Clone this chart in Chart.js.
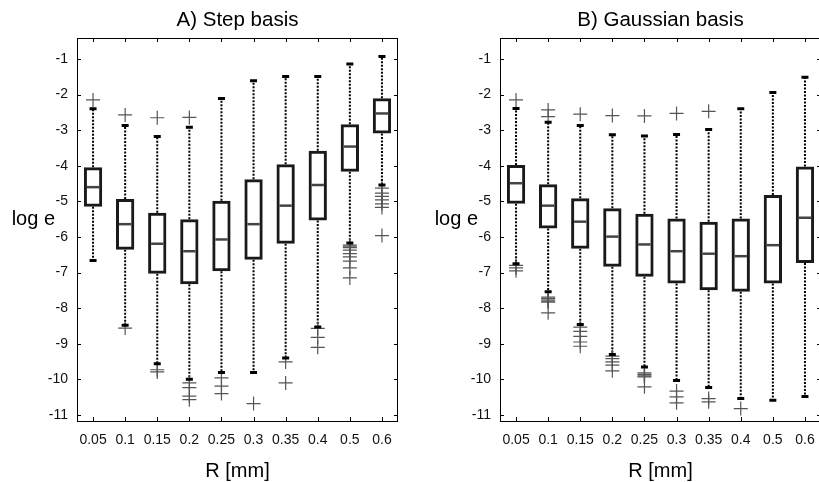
<!DOCTYPE html>
<html>
<head>
<meta charset="utf-8">
<script src="https://cdn.jsdelivr.net/npm/chart.js@4/dist/chart.umd.min.js"></script>
<style>
  html, body { margin: 0; padding: 0; background: #fff; overflow: hidden; }
  #wrap { position: relative; width: 819px; height: 482px; overflow: hidden; }
  .panel { position: absolute; top: 0; height: 482px; }
</style>
</head>
<body>
<div id="wrap">
  <div class="panel" style="left:0; width:410px;"><canvas id="stepChart"></canvas></div>
  <div class="panel" style="left:410px; width:420px;"><canvas id="gaussChart"></canvas></div>
</div>
<script>
const categories = ['0.05', '0.1', '0.15', '0.2', '0.25', '0.3', '0.35', '0.4', '0.5', '0.6'];
const yTickValues = [-1, -2, -3, -4, -5, -6, -7, -8, -9, -10, -11];

// A) Step basis
const stepLowWhisker = [-6.66, -8.48, -9.56, -10.0, -9.81, -9.81, -9.40, -8.53, -6.17, -4.54];
const stepQ1 = [-5.15, -6.36, -7.03, -7.33, -6.96, -6.64, -6.19, -5.54, -4.17, -3.09];
const stepMedian = [-4.60, -5.64, -6.19, -6.40, -6.07, -5.64, -5.12, -4.54, -3.46, -2.53];
const stepQ3 = [-4.04, -4.93, -5.32, -5.50, -4.98, -4.38, -3.96, -3.58, -2.83, -2.10];
const stepHighWhisker = [-2.40, -2.87, -3.18, -2.92, -2.11, -1.61, -1.49, -1.49, -1.14, -0.93];
const stepOutliers = [
    [-2.15],
    [-2.57, -8.56],
    [-2.65, -9.73, -9.79],
    [-2.64, -10.10, -10.23, -10.47, -10.57],
    [-9.96, -10.19, -10.40],
    [-10.68],
    [-9.51, -10.10],
    [-8.57, -8.82, -9.10],
    [-6.23, -6.26, -6.30, -6.37, -6.47, -6.56, -6.68, -6.87, -7.15],
    [-4.63, -4.77, -4.86, -4.96, -5.07, -5.17, -5.96]
];

// B) Gaussian basis
const gaussLowWhisker = [-6.75, -7.54, -8.46, -9.30, -9.65, -10.03, -10.23, -10.54, -10.59, -10.48];
const gaussQ1 = [-5.07, -5.76, -6.33, -6.84, -7.12, -7.31, -7.50, -7.54, -7.31, -6.73];
const gaussMedian = [-4.49, -5.12, -5.57, -5.99, -6.21, -6.40, -6.47, -6.54, -6.23, -5.46];
const gaussQ3 = [-3.98, -4.52, -4.91, -5.19, -5.35, -5.48, -5.57, -5.48, -4.82, -4.02];
const gaussHighWhisker = [-2.39, -2.78, -2.87, -3.13, -3.16, -3.12, -2.98, -2.40, -1.94, -1.51];
const gaussOutliers = [
    [-2.15, -6.80, -6.87, -6.95],
    [-2.43, -2.62, -7.69, -7.73, -7.77, -7.80, -7.83, -8.13],
    [-2.55, -8.53, -8.65, -8.79, -8.95, -9.07],
    [-2.59, -9.35, -9.42, -9.51, -9.60, -9.76],
    [-2.60, -9.82, -9.86, -9.90, -9.93, -10.21],
    [-2.53, -10.33, -10.49, -10.66],
    [-2.47, -10.54, -10.63],
    [-10.82],
    [],
    []
];

const FONT = "'Liberation Sans', Arial, Helvetica, sans-serif";

// draws whiskers, caps, medians, inward ticks, frame and the horizontal titles
const boxPlotExtras = {
    id: 'boxPlotExtras',
    beforeDatasetsDraw(chart, args, opts) {
        const ctx = chart.ctx, x = chart.scales.x, y = chart.scales.y;
        ctx.save();
        ctx.strokeStyle = '#000';
        ctx.lineWidth = 2;
        ctx.setLineDash([2, 1.5]);
        categories.forEach((c, i) => {
            const px = x.getPixelForValue(i);
            ctx.beginPath();
            ctx.moveTo(px, y.getPixelForValue(opts.q3[i]));
            ctx.lineTo(px, y.getPixelForValue(opts.high[i]));
            ctx.moveTo(px, y.getPixelForValue(opts.q1[i]));
            ctx.lineTo(px, y.getPixelForValue(opts.low[i]));
            ctx.stroke();
        });
        ctx.restore();
    },
    afterDatasetsDraw(chart, args, opts) {
        const ctx = chart.ctx, x = chart.scales.x, y = chart.scales.y;
        const bars = chart.getDatasetMeta(0).data;
        ctx.save();
        categories.forEach((c, i) => {
            const px = x.getPixelForValue(i);
            // whisker caps
            ctx.strokeStyle = '#000';
            ctx.lineWidth = 3;
            ctx.beginPath();
            [opts.high[i], opts.low[i]].forEach(v => {
                const py = y.getPixelForValue(v);
                ctx.moveTo(px - 3.5, py);
                ctx.lineTo(px + 3.5, py);
            });
            ctx.stroke();
            // median
            const w = bars[i].width / 2 - 3;
            ctx.strokeStyle = '#444';
            ctx.lineWidth = 2.5;
            const my = y.getPixelForValue(opts.median[i]);
            ctx.beginPath();
            ctx.moveTo(px - w, my);
            ctx.lineTo(px + w, my);
            ctx.stroke();
        });
        ctx.restore();
    },
    afterDraw(chart, args, opts) {
        const ctx = chart.ctx, x = chart.scales.x, y = chart.scales.y;
        const a = chart.chartArea;
        ctx.save();
        ctx.strokeStyle = '#000';
        ctx.lineWidth = 1;
        ctx.strokeRect(a.left + 0.5, a.top + 0.5, a.right - a.left - 1, a.bottom - a.top);
        ctx.beginPath();
        yTickValues.forEach(v => {
            const py = Math.round(y.getPixelForValue(v)) + 0.5;
            ctx.moveTo(a.left, py); ctx.lineTo(a.left + 4, py);
            ctx.moveTo(a.right, py); ctx.lineTo(a.right - 4, py);
        });
        categories.forEach((c, i) => {
            const px = Math.round(x.getPixelForValue(i)) + 0.5;
            ctx.moveTo(px, a.bottom); ctx.lineTo(px, a.bottom - 4);
            ctx.moveTo(px, a.top); ctx.lineTo(px, a.top + 4);
        });
        ctx.stroke();

        ctx.fillStyle = '#000';
        ctx.font = '20.5px ' + FONT;
        ctx.textBaseline = 'alphabetic';
        ctx.textAlign = 'center';
        ctx.fillText(opts.title, (a.left + a.right) / 2, 26);
        ctx.font = '20px ' + FONT;
        ctx.textAlign = 'right';
        ctx.fillText(opts.yLabel, a.left - 22, 225);
        ctx.restore();
    }
};

function makeBoxChart(id, title, low, q1, median, q3, high, outliers, yAxisWidth, rightPad) {
    const outlierPoints = [];
    outliers.forEach((list, i) => list.forEach(v => outlierPoints.push({ x: categories[i], y: v })));

    return new Chart(document.getElementById(id), {
        type: 'bar',
        data: {
            labels: categories,
            datasets: [{
                data: categories.map((c, i) => [q1[i], q3[i]]),
                backgroundColor: 'rgba(0,0,0,0)',
                borderColor: '#1a1a1a',
                borderWidth: 3,
                borderSkipped: false,
                barPercentage: 0.57,
                categoryPercentage: 1.0
            }, {
                type: 'scatter',
                data: outlierPoints,
                pointStyle: 'cross',
                pointRadius: 7,
                borderColor: '#555',
                borderWidth: 1.2,
                backgroundColor: '#555'
            }]
        },
        options: {
            responsive: true,
            maintainAspectRatio: false,
            animation: false,
            events: [],
            layout: { padding: { top: 38, right: rightPad, left: 0, bottom: 0 } },
            scales: {
                x: {
                    type: 'category',
                    offset: true,
                    grid: { display: false, drawTicks: false },
                    border: { display: false },
                    ticks: { color: '#111', font: { family: FONT, size: 14 }, padding: 11, maxRotation: 0, autoSkip: false },
                    title: { display: true, text: 'R [mm]', color: '#000', font: { family: FONT, size: 20, lineHeight: 1 }, padding: { top: 0, bottom: 1 } },
                    afterFit(scale) { scale.height = 61; }
                },
                y: {
                    min: -11.17,
                    max: -0.41,
                    grid: { display: false, drawTicks: false },
                    border: { display: false },
                    ticks: { color: '#111', font: { family: FONT, size: 14 }, padding: 9 },
                    afterBuildTicks(scale) { scale.ticks = yTickValues.map(v => ({ value: v })); },
                    afterFit(scale) { scale.width = yAxisWidth; }
                }
            },
            plugins: {
                legend: { display: false },
                tooltip: { enabled: false },
                boxPlotExtras: { title: title, yLabel: 'log e', low: low, q1: q1, median: median, q3: q3, high: high }
            }
        },
        plugins: [boxPlotExtras]
    });
}

makeBoxChart('stepChart', 'A) Step basis', stepLowWhisker, stepQ1, stepMedian, stepQ3, stepHighWhisker, stepOutliers, 77, 12);
makeBoxChart('gaussChart', 'B) Gaussian basis', gaussLowWhisker, gaussQ1, gaussMedian, gaussQ3, gaussHighWhisker, gaussOutliers, 90, 9);
</script>
</body>
</html>
